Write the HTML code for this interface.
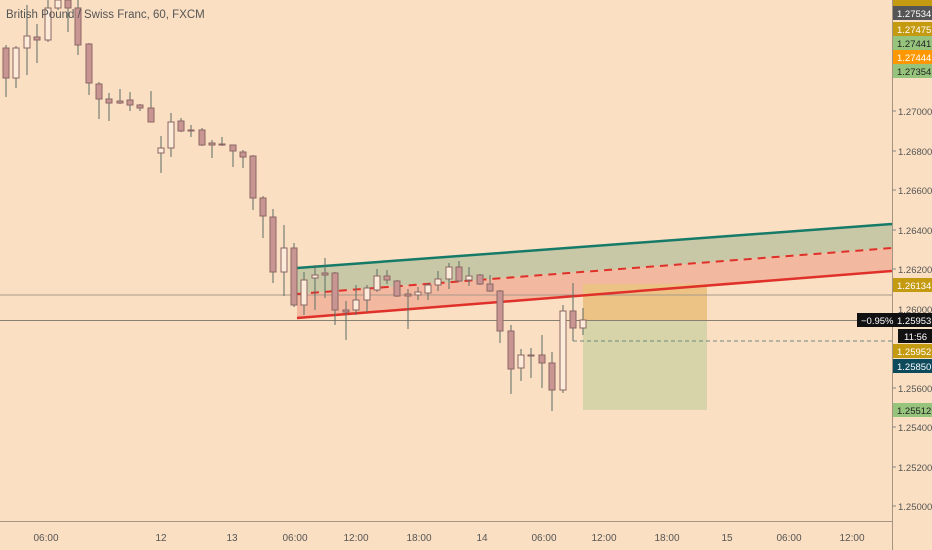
<!DOCTYPE html>
<html><head><meta charset="utf-8"><style>
body{margin:0;background:#fadfc2;}
svg{display:block;font-family:"Liberation Sans",sans-serif;}
</style></head><body>
<svg width="932" height="550" viewBox="0 0 932 550" xmlns="http://www.w3.org/2000/svg">
<rect width="932" height="550" fill="#fadfc2"/>
<polygon points="297,268 892,224 892,248 297,294" fill="#c9c8a6"/>
<polygon points="297,294 892,248 892,271 297,318" fill="#f2b9a0"/>
<rect x="583" y="284" width="124" height="37" fill="#ecc385"/>
<rect x="583" y="321" width="124" height="89" fill="#d6d4a8"/>
<line x1="0" y1="295" x2="892" y2="295" stroke="#a89888" stroke-width="1"/>
<line x1="0" y1="320.5" x2="892" y2="320.5" stroke="#888070" stroke-width="1"/>
<line x1="573" y1="341" x2="892" y2="341" stroke="#6f8880" stroke-width="1" stroke-dasharray="4,3"/>
<line x1="297" y1="268" x2="892" y2="224" stroke="#167a68" stroke-width="2.5"/>
<line x1="297" y1="294" x2="892" y2="248" stroke="#e0302a" stroke-width="2" stroke-dasharray="8,6"/>
<line x1="297" y1="318" x2="892" y2="271" stroke="#e0302a" stroke-width="2.5"/>
<g stroke="#5c6e64">
<line x1="6" y1="45" x2="6" y2="97"/><line x1="16" y1="46" x2="16" y2="88"/><line x1="27" y1="5" x2="27" y2="75"/><line x1="37" y1="24" x2="37" y2="63"/><line x1="48" y1="0" x2="48" y2="42"/><line x1="58" y1="0" x2="58" y2="10"/><line x1="68" y1="0" x2="68" y2="32"/><line x1="78" y1="0" x2="78" y2="55"/><line x1="89" y1="43" x2="89" y2="95"/><line x1="99" y1="82" x2="99" y2="119"/>
<line x1="109" y1="93" x2="109" y2="121"/><line x1="120" y1="89" x2="120" y2="104"/><line x1="130" y1="92" x2="130" y2="111"/><line x1="140" y1="104" x2="140" y2="111"/><line x1="151" y1="91" x2="151" y2="122"/><line x1="161" y1="136" x2="161" y2="173"/><line x1="171" y1="113" x2="171" y2="157"/><line x1="181" y1="118" x2="181" y2="132"/><line x1="191" y1="125" x2="191" y2="137"/><line x1="202" y1="128" x2="202" y2="146"/>
<line x1="212" y1="140" x2="212" y2="158"/><line x1="222" y1="137" x2="222" y2="146"/><line x1="233" y1="145" x2="233" y2="167"/><line x1="243" y1="150" x2="243" y2="168"/><line x1="253" y1="155" x2="253" y2="210"/><line x1="263" y1="196" x2="263" y2="238"/><line x1="273" y1="209" x2="273" y2="283"/><line x1="284" y1="225" x2="284" y2="296"/><line x1="294" y1="243" x2="294" y2="307"/><line x1="304" y1="272" x2="304" y2="315"/>
<line x1="315" y1="265" x2="315" y2="310"/><line x1="325" y1="258" x2="325" y2="298"/><line x1="335" y1="272" x2="335" y2="325"/><line x1="346" y1="301" x2="346" y2="340"/><line x1="356" y1="285" x2="356" y2="315"/><line x1="367" y1="285" x2="367" y2="312"/><line x1="377" y1="269" x2="377" y2="292"/><line x1="387" y1="270" x2="387" y2="284"/><line x1="397" y1="280" x2="397" y2="297"/><line x1="408" y1="289" x2="408" y2="329"/>
<line x1="418" y1="287" x2="418" y2="300"/><line x1="428" y1="283" x2="428" y2="300"/><line x1="438" y1="271" x2="438" y2="291"/><line x1="449" y1="263" x2="449" y2="289"/><line x1="459" y1="261" x2="459" y2="282"/><line x1="469" y1="267" x2="469" y2="286"/><line x1="480" y1="274" x2="480" y2="285"/><line x1="490" y1="275" x2="490" y2="292"/><line x1="500" y1="290" x2="500" y2="343"/><line x1="511" y1="325" x2="511" y2="394"/>
<line x1="521" y1="349" x2="521" y2="381"/><line x1="531" y1="348" x2="531" y2="378"/><line x1="542" y1="335" x2="542" y2="388"/><line x1="552" y1="352" x2="552" y2="411"/><line x1="563" y1="305" x2="563" y2="393"/><line x1="573" y1="283" x2="573" y2="341"/><line x1="583" y1="308" x2="583" y2="335"/>
</g>
<g stroke="#8c6664" fill="#c99592">
<rect x="3" y="48" width="6" height="30"/><rect x="34" y="37" width="6" height="3"/><rect x="65" y="0" width="6" height="8"/><rect x="75" y="8" width="6" height="37"/><rect x="86" y="44" width="6" height="39"/><rect x="96" y="84" width="6" height="15"/>
<rect x="106" y="99" width="6" height="4"/><rect x="117" y="101" width="6" height="2"/><rect x="127" y="100" width="6" height="5"/><rect x="137" y="105" width="6" height="3"/><rect x="148" y="108" width="6" height="14"/><rect x="178" y="121" width="6" height="10"/><rect x="188" y="130" width="6" height="1"/><rect x="199" y="130" width="6" height="15"/>
<rect x="209" y="143" width="6" height="2"/><rect x="219" y="144" width="6" height="1"/><rect x="230" y="145" width="6" height="6"/><rect x="240" y="152" width="6" height="5"/><rect x="250" y="156" width="6" height="42"/><rect x="260" y="198" width="6" height="18"/><rect x="270" y="217" width="6" height="55"/><rect x="291" y="248" width="6" height="57"/>
<rect x="322" y="273" width="6" height="2"/><rect x="332" y="273" width="6" height="37"/><rect x="343" y="310" width="6" height="2"/><rect x="384" y="276" width="6" height="4"/><rect x="394" y="281" width="6" height="15"/><rect x="405" y="294" width="6" height="2"/>
<rect x="456" y="267" width="6" height="14"/><rect x="477" y="275" width="6" height="9"/><rect x="487" y="284" width="6" height="7"/><rect x="497" y="291" width="6" height="40"/><rect x="508" y="331" width="6" height="38"/>
<rect x="528" y="355" width="6" height="1"/><rect x="539" y="355" width="6" height="8"/><rect x="549" y="363" width="6" height="27"/><rect x="570" y="311" width="6" height="17"/>
</g>
<g stroke="#8c6664" fill="#fcebd9">
<rect x="13" y="48" width="6" height="30"/><rect x="24" y="36" width="6" height="12"/><rect x="45" y="8" width="6" height="32"/><rect x="55" y="0" width="6" height="8"/>
<rect x="158" y="148" width="6" height="5"/><rect x="168" y="122" width="6" height="26"/><rect x="281" y="248" width="6" height="24"/><rect x="301" y="280" width="6" height="25"/>
<rect x="312" y="275" width="6" height="3"/><rect x="353" y="300" width="6" height="10"/><rect x="364" y="288" width="6" height="12"/><rect x="374" y="276" width="6" height="14"/>
<rect x="415" y="292" width="6" height="3"/><rect x="425" y="285" width="6" height="8"/><rect x="435" y="279" width="6" height="6"/><rect x="446" y="267" width="6" height="12"/><rect x="466" y="276" width="6" height="4"/>
<rect x="518" y="355" width="6" height="13"/><rect x="560" y="311" width="6" height="79"/><rect x="580" y="320" width="6" height="8"/>
</g>
<text x="6" y="18" font-size="11.5" fill="#555">British Pound / Swiss Franc, 60, FXCM</text>
<line x1="892.5" y1="0" x2="892.5" y2="550" stroke="#a49484"/>
<line x1="0" y1="521.5" x2="892" y2="521.5" stroke="#a49484"/>
<g font-size="9.5" fill="#555">
<g stroke="#888">
<line x1="892" y1="111" x2="896" y2="111"/><line x1="892" y1="151" x2="896" y2="151"/><line x1="892" y1="190" x2="896" y2="190"/><line x1="892" y1="230" x2="896" y2="230"/><line x1="892" y1="269" x2="896" y2="269"/><line x1="892" y1="388" x2="896" y2="388"/><line x1="892" y1="427" x2="896" y2="427"/><line x1="892" y1="467" x2="896" y2="467"/><line x1="892" y1="506" x2="896" y2="506"/>
</g>
<text x="898" y="115">1.27000</text><text x="898" y="155">1.26800</text><text x="898" y="194">1.26600</text><text x="898" y="234">1.26400</text><text x="898" y="273">1.26200</text><text x="898" y="313">1.26000</text><text x="898" y="392">1.25600</text><text x="898" y="431">1.25400</text><text x="898" y="471">1.25200</text><text x="898" y="510">1.25000</text>
</g>
<g font-size="9.5">
<rect x="893" y="-3" width="39" height="10" fill="#c49a10"/>
<rect x="893" y="6" width="39" height="14" fill="#555"/><text x="897" y="17" fill="#fff">1.27534</text>
<rect x="893" y="22" width="39" height="14" fill="#c49a10"/><text x="897" y="33" fill="#fff">1.27475</text>
<rect x="893" y="36" width="39" height="14" fill="#96c47c"/><text x="897" y="47" fill="#222">1.27441</text>
<rect x="893" y="50" width="39" height="14" fill="#ff9800"/><text x="897" y="61" fill="#fff">1.27444</text>
<rect x="893" y="64" width="39" height="14" fill="#96c47c"/><text x="897" y="75" fill="#222">1.27354</text>
<rect x="893" y="278" width="39" height="14" fill="#c49a10"/><text x="897" y="289" fill="#fff">1.26134</text>
<rect x="857" y="313" width="75" height="14" fill="#111"/><text x="861" y="324" fill="#fff">−0.95%</text><text x="897" y="324" fill="#fff">1.25953</text>
<rect x="898" y="329" width="34" height="14" fill="#111"/><text x="904" y="340" fill="#fff">11:56</text>
<rect x="893" y="344" width="39" height="14" fill="#c49a10"/><text x="897" y="355" fill="#fff">1.25952</text>
<rect x="893" y="359" width="39" height="14" fill="#0c4a5c"/><text x="897" y="370" fill="#fff">1.25850</text>
<rect x="893" y="403" width="39" height="14" fill="#96c47c"/><text x="897" y="414" fill="#222">1.25512</text>
</g>
<g font-size="10" fill="#555" text-anchor="middle">
<text x="46" y="541">06:00</text><text x="161" y="541">12</text><text x="232" y="541">13</text><text x="295" y="541">06:00</text><text x="356" y="541">12:00</text><text x="419" y="541">18:00</text><text x="482" y="541">14</text><text x="544" y="541">06:00</text><text x="604" y="541">12:00</text><text x="667" y="541">18:00</text><text x="727" y="541">15</text><text x="789" y="541">06:00</text><text x="852" y="541">12:00</text>
</g>
</svg>
</body></html>
